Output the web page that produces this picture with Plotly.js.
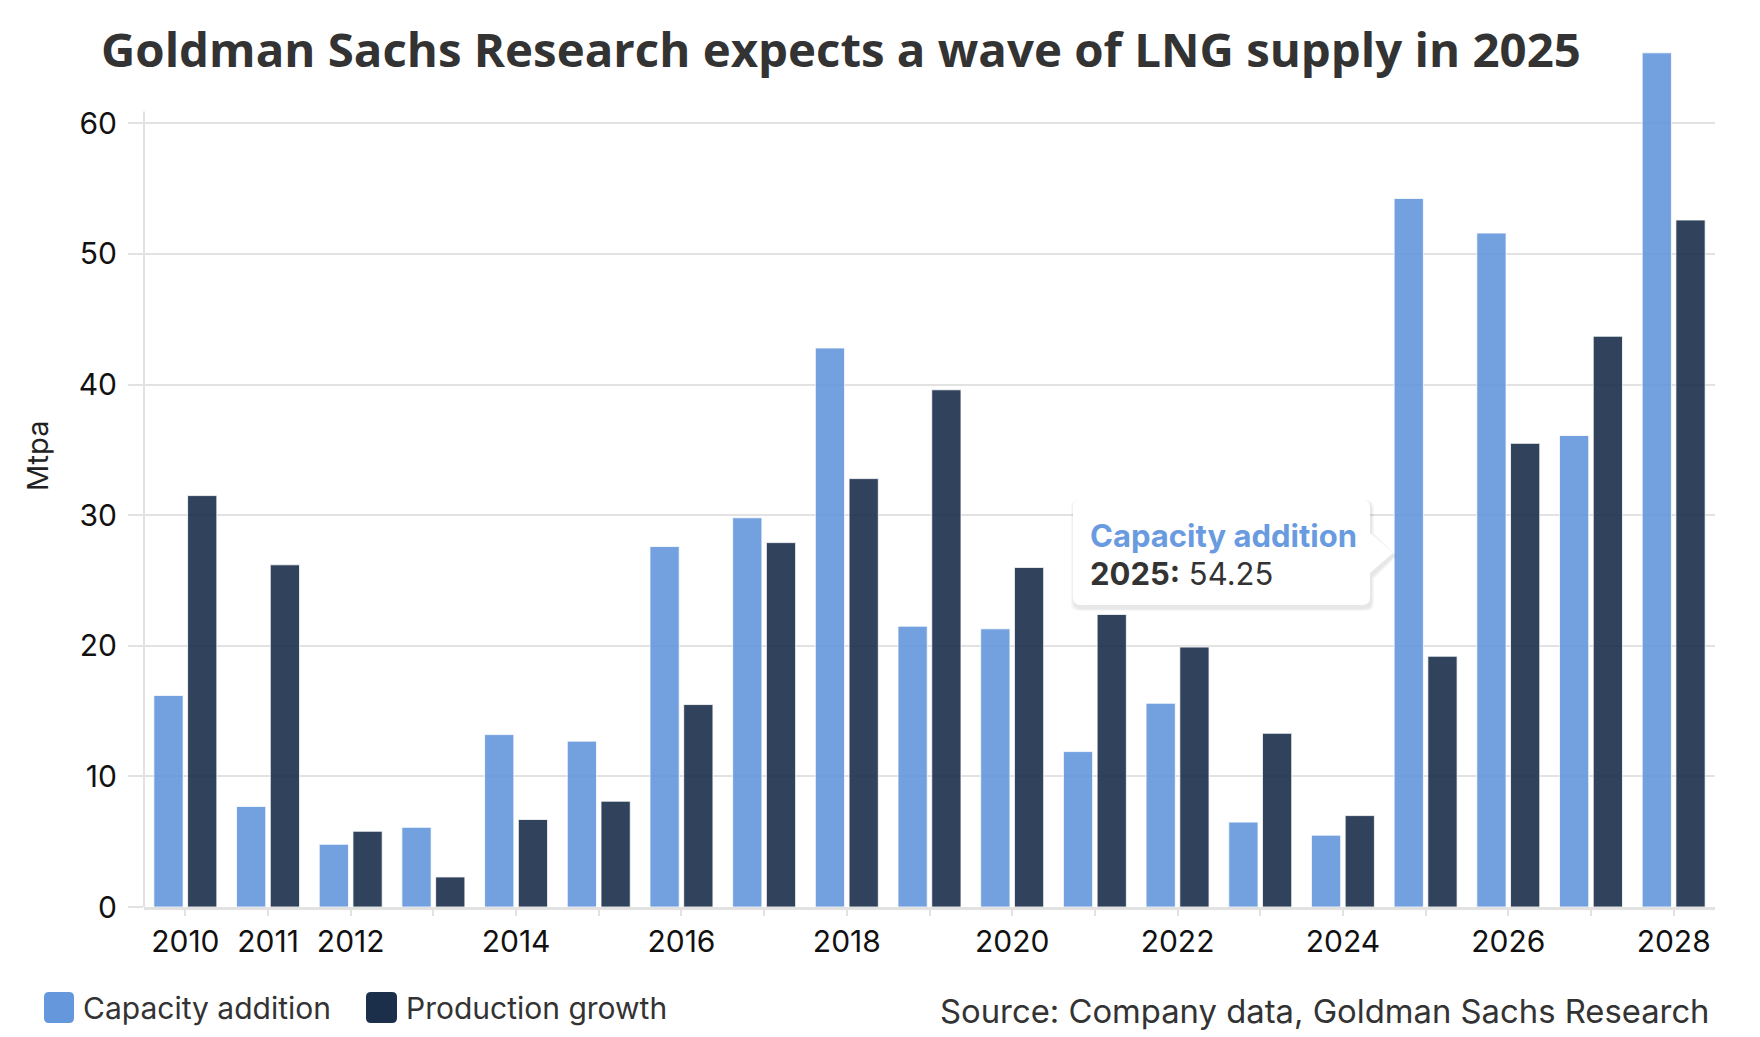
<!DOCTYPE html>
<html>
<head>
<meta charset="utf-8">
<script src="https://cdn.plot.ly/plotly-3.0.1.min.js"></script>
<style>
  html, body { margin: 0; padding: 0; background: #ffffff; }
  #chart { width: 1760px; height: 1037px; }
</style>
</head>
<body>
<div id="chart"></div>
<script>
// ---- Data ----
const years = ['2010','2011','2012','2013','2014','2015','2016','2017','2018','2019',
               '2020','2021','2022','2023','2024','2025','2026','2027','2028'];
const capacityAddition = [16.2, 7.7, 4.8, 6.1, 13.2, 12.7, 27.6, 29.8, 42.8, 21.5,
                          21.3, 11.9, 15.6, 6.5, 5.5, 54.25, 51.6, 36.1, 65.4];
const productionGrowth = [31.5, 26.2, 5.8, 2.3, 6.7, 8.1, 15.5, 27.9, 32.8, 39.6,
                          26.0, 22.4, 19.9, 13.3, 7.0, 19.2, 35.5, 43.7, 52.6];
const tickLabels = ['2010','2011','2012','','2014','','2016','','2018','',
                    '2020','','2022','','2024','','2026','','2028'];
const seriesNames = ['Capacity addition', 'Production growth'];
const tooltipIndex = 15;

// ---- Styles ----
const COL_CAP = '#6497dc';
const COL_PROD = '#1b2f4b';
const COL_GRID = '#e2e2e2';
const FONT = 'Inter, "Noto Sans", sans-serif';

const W = 1760, H = 1037;
const M = {l: 144, r: 45, t: 45, b: 130};
const PW = W - M.l - M.r, PH = H - M.t - M.b;
const px = x => (x - M.l) / PW;
const py = y => (H - M.b - y) / PH;

const traces = [
  {
    type: 'bar', name: seriesNames[0], x: years, y: capacityAddition,
    marker: {color: COL_CAP, opacity: 0.9, line: {color: 'rgba(255,255,255,0.8)', width: 1}},
    hoverinfo: 'skip', showlegend: false
  },
  {
    type: 'bar', name: seriesNames[1], x: years, y: productionGrowth,
    marker: {color: COL_PROD, opacity: 0.9, line: {color: 'rgba(255,255,255,0.8)', width: 1}},
    hoverinfo: 'skip', showlegend: false
  }
];

// rounded rect path in pixel coords -> paper coords
function roundRect(x0, y0, x1, y1, r, pointer) {
  const P = (x, y) => px(x).toFixed(5) + ',' + py(y).toFixed(5);
  let d = 'M' + P(x0 + r, y0) + ' L' + P(x1 - r, y0) + ' Q' + P(x1, y0) + ' ' + P(x1, y0 + r);
  if (pointer) {
    d += ' L' + P(x1, pointer.y0) + ' L' + P(pointer.tipX, pointer.tipY) + ' L' + P(x1, pointer.y1);
  }
  d += ' L' + P(x1, y1 - r) + ' Q' + P(x1, y1) + ' ' + P(x1 - r, y1) +
       ' L' + P(x0 + r, y1) + ' Q' + P(x0, y1) + ' ' + P(x0, y1 - r) +
       ' L' + P(x0, y0 + r) + ' Q' + P(x0, y0) + ' ' + P(x0 + r, y0) + ' Z';
  return d;
}

const shapes = [];
// y axis line (stops just above the 60 gridline)
shapes.push({type: 'line', xref: 'paper', yref: 'y', x0: 0, x1: 0, y0: 0, y1: 60.9,
             line: {color: COL_GRID, width: 2}, layer: 'below'});
// x axis tick marks at every category
years.forEach(yr => {
  shapes.push({type: 'line', xref: 'x', yref: 'paper', x0: yr, x1: yr, y0: 0, y1: -15 / PH,
               line: {color: COL_GRID, width: 2}, layer: 'below'});
});

// tooltip shadow + box
const ptr = {y0: 533, y1: 573, tipX: 1393, tipY: 553};
for (let i = 3; i >= 1; i--) {
  shapes.push({type: 'path', xref: 'paper', yref: 'paper',
    path: roundRect(1073 - i + 1, 500 - i + 3, 1370 + i + 1, 605 + i + 3, 8, {y0: ptr.y0 - i + 3, y1: ptr.y1 + i + 3, tipX: ptr.tipX + i + 1, tipY: ptr.tipY + 3}),
    fillcolor: 'rgba(0,0,0,0.03)', line: {width: 0}, layer: 'above'});
}
shapes.push({type: 'path', xref: 'paper', yref: 'paper',
  path: roundRect(1073, 500, 1370, 605, 8, ptr),
  fillcolor: '#ffffff', line: {width: 0}, layer: 'above'});

// legend squares
function legendSquare(x0, x1, color) {
  shapes.push({type: 'path', xref: 'paper', yref: 'paper',
    path: roundRect(x0, 992, x1, 1023, 5), fillcolor: color, line: {width: 0}, layer: 'above'});
}
legendSquare(44, 74, COL_CAP);
legendSquare(366, 397, COL_PROD);

const annotations = [
  // y-axis title
  {text: 'Mtpa', xref: 'paper', yref: 'paper', x: px(37), y: py(456), textangle: -90,
   showarrow: false, xanchor: 'center', yanchor: 'middle',
   font: {family: FONT, size: 29, color: '#222222'}},
  // tooltip
  {text: '<b>' + seriesNames[0] + '</b>', xref: 'paper', yref: 'paper', x: px(1088), y: py(535),
   showarrow: false, xanchor: 'left', yanchor: 'middle',
   font: {family: FONT, size: 31, color: '#6a9be0'}},
  {text: '<b>' + years[tooltipIndex] + ':</b> ' + capacityAddition[tooltipIndex].toFixed(2),
   xref: 'paper', yref: 'paper', x: px(1088), y: py(573),
   showarrow: false, xanchor: 'left', yanchor: 'middle',
   font: {family: FONT, size: 31, color: '#333333'}},
  // legend labels
  {text: seriesNames[0], xref: 'paper', yref: 'paper', x: px(81), y: py(1008),
   showarrow: false, xanchor: 'left', yanchor: 'middle',
   font: {family: FONT, size: 30, color: '#333333'}},
  {text: seriesNames[1], xref: 'paper', yref: 'paper', x: px(404), y: py(1008),
   showarrow: false, xanchor: 'left', yanchor: 'middle',
   font: {family: FONT, size: 30, color: '#333333'}},
  // source
  {text: 'Source: Company data, Goldman Sachs Research', xref: 'paper', yref: 'paper',
   x: px(1712), y: py(1011), showarrow: false, xanchor: 'right', yanchor: 'middle',
   font: {family: FONT, size: 32.8, color: '#333333'}}
];

const layout = {
  width: W, height: H,
  margin: M,
  paper_bgcolor: '#ffffff', plot_bgcolor: '#ffffff',
  title: {
    text: '<b>Goldman Sachs Research expects a wave of LNG supply in 2025</b>',
    x: 101 / W, xanchor: 'left', xref: 'container',
    y: 1 - 50 / H, yanchor: 'middle', yref: 'container',
    font: {family: '"Open Sans", sans-serif', size: 47.4, color: '#333333'}
  },
  barmode: 'group', bargap: 0.184, bargroupgap: 0.133,
  showlegend: false,
  xaxis: {
    type: 'category', range: [-0.5, 18.5],
    tickmode: 'array', tickvals: years, ticktext: tickLabels,
    ticks: 'outside', ticklen: 6, tickwidth: 2, tickcolor: COL_GRID,
    showline: true, linecolor: COL_GRID, linewidth: 3,
    showgrid: false, zeroline: false,
    tickfont: {family: FONT, size: 30, color: '#111111'}
  },
  yaxis: {
    range: [0, 66], tickmode: 'array', tickvals: [0, 10, 20, 30, 40, 50, 60],
    ticks: 'outside', ticklen: 15, tickwidth: 2, tickcolor: COL_GRID,
    showgrid: true, gridcolor: COL_GRID, gridwidth: 2,
    showline: false, zeroline: false,
    ticklabelstandoff: 5,
    tickfont: {family: FONT, size: 30, color: '#111111'}
  },
  shapes: shapes,
  annotations: annotations
};

Plotly.newPlot('chart', traces, layout, {displayModeBar: false, staticPlot: true});
</script>
</body>
</html>
